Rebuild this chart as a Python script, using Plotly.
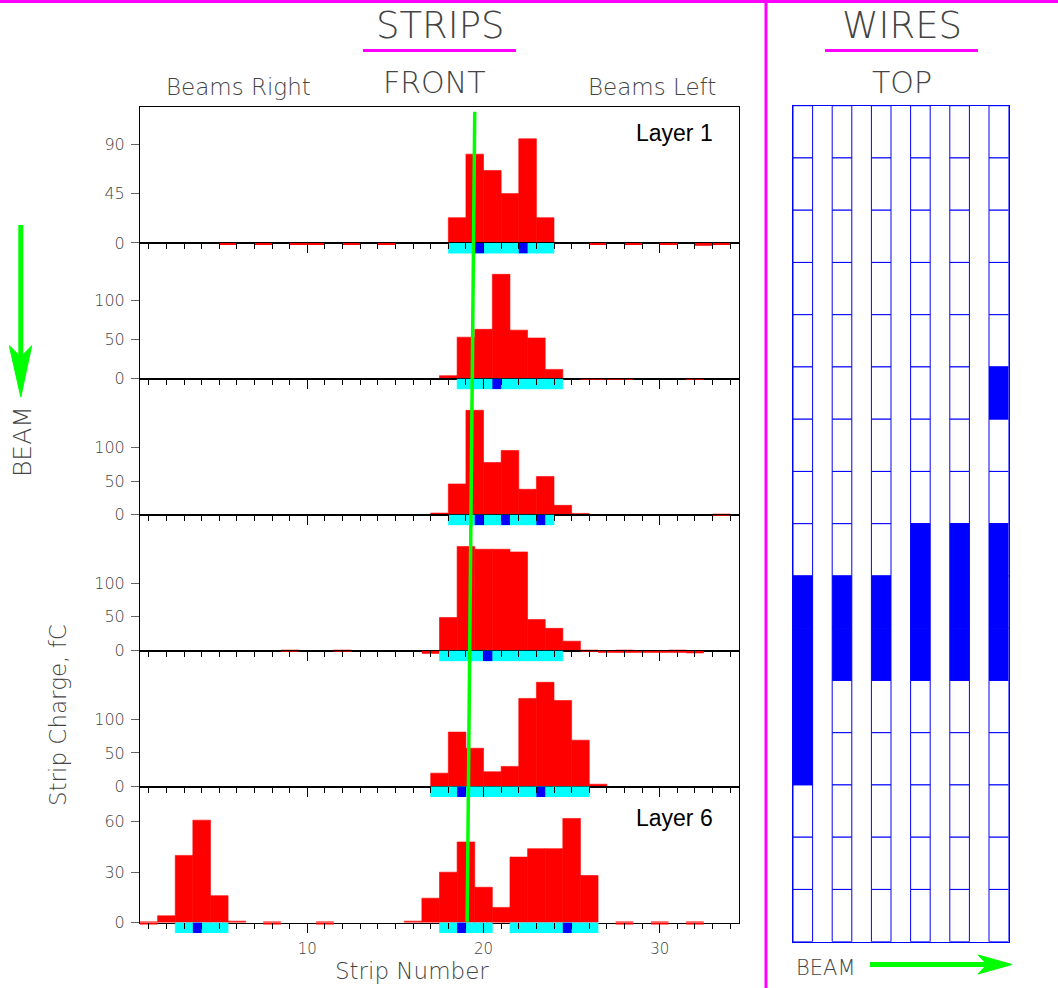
import plotly.graph_objects as go

W, H = 1058, 988

# ---------------- data ----------------
STRIP_NUMBERS = list(range(1, 35))
LAYER_LABELS = ["Layer 1", "", "", "", "", "Layer 6"]

CHARGE_L1 = [0, 0, 0, 0, -1, 0, -1, 0, -1, -1,
             0, -1, 0, -1, 0, 0, 0, 23, 81, 66,
             45, 95, 23, 0, 0, -1, 0, -1, 0, -1,
             0, -2.5, -1.5, 0]
CHARGE_L2 = [0, 0, 0, 0, 0, 0, 0, 0, 0, 0,
             0, 0, 0, 0, 0, 0, 0, 4, 53, 63,
             133, 62, 52, 12, 0, -1, -1, -1, 0, 0,
             0, -1, 0, 0]
CHARGE_L3 = [0, 0, 0, 0, 0, 0, 0, 0, 0, 0,
             0, 0, 0, 0, 0, 0, 2.5, 46, 156, 78,
             96, 38, 57, 14, 2, 0, 0, 0, 0, 0,
             0, 0, -1.5, 0]
CHARGE_L4 = [0, 0, 0, 0, 0, 0, 0, 0, -1, 0,
             0, -1, 0, 0, 0, 0, -4.5, 49, 154, 150,
             150, 146, 46, 33, 14, -1, -3, -2, -3, -3,
             -2, -4, 0, 0]
CHARGE_L5 = [0, 0, 0, 0, 0, 0, 0, 0, 0, 0,
             0, 0, 0, 0, 0, 0, 20, 81, 57, 22,
             30, 131, 155, 128, 69, 3.5, 0, 0, 0, 0,
             0, 0, 0, 0]
CHARGE_L6 = [-1, 4, 40, 61, 16, 0.8, 0, -1, 0, 0,
             -1, 0, 0, 0, 0, 0.8, 14.5, 30, 48, 21,
             9, 39, 44, 44, 62, 28, 0, -1, 0, -1,
             0, -1, 0, 0]
CHARGES = [CHARGE_L1, CHARGE_L2, CHARGE_L3, CHARGE_L4, CHARGE_L5, CHARGE_L6]

# strips above threshold (cyan) and key half-strips (blue): (strip, 0=left half / 1=right half)
HIT_STRIPS = [
    [18, 19, 20, 21, 22, 23],
    [19, 20, 21, 22, 23, 24],
    [18, 19, 20, 21, 22, 23],
    [18, 19, 20, 21, 22, 23, 24],
    [17, 18, 19, 20, 21, 22, 23, 24, 25],
    [3, 4, 5, 18, 19, 20, 22, 23, 24, 25, 26],
]
KEY_HALFSTRIPS = [
    [(19, 1), (22, 0)],
    [(21, 0)],
    [(19, 1), (21, 0), (23, 0)],
    [(20, 1)],
    [(18, 1), (23, 0)],
    [(4, 0), (19, 0), (25, 0)],
]

Y_TICKS = [[0, 45, 90], [0, 50, 100], [0, 50, 100], [0, 50, 100], [0, 50, 100], [0, 30, 60]]
X_TICK_VALUES = [10, 20, 30]
X_TICK_LABELS = ["10", "20", "30"]

TRACK_TOP_STRIP = 19.5
TRACK_BOTTOM_STRIP = 19.07

WIRE_GROUPS = list(range(1, 17))
WIRE_HITS = [
    [10, 11, 12, 13],
    [10, 11],
    [10, 11],
    [9, 10, 11],
    [9, 10, 11],
    [6, 9, 10, 11],
]

# ---------------- layout geometry / styles ----------------
STAGGER = [0.5, 0, 0.5, 0, 0.5, 0]
Y_MAX = [124, 173, 203, 201, 202, 81]
PLOT_L, PLOT_R = 140, 739
PANEL_TOP, PANEL_BOTTOM = 107, 922.5
PH = (PANEL_BOTTOM - PANEL_TOP) / 6
BAND_PX = 10.5
GREY = "#444444"
FONT = "DejaVu Sans"
FW = 200
RED, CYAN, BLUE = "#ff0000", "#00ffff", "#0000ff"


def px(x):
    return x / W


def py(y):
    return 1 - y / H


fig = go.Figure()
layout = dict(
    template="none",
    width=W, height=H, margin=dict(l=0, r=0, t=0, b=0, pad=0, autoexpand=False),
    paper_bgcolor="white", plot_bgcolor="rgba(0,0,0,0)",
    barmode="overlay", showlegend=False,
)

for i in range(6):
    suffix = "" if i == 0 else str(i + 1)
    bsuf = str(i + 8)
    xr, yr = "x" + suffix, "y" + suffix
    xb, yb = "x" + bsuf, "y" + bsuf
    top = PANEL_TOP + i * PH
    bot = top + PH
    last = i == 5
    layout["xaxis" + suffix] = dict(
        domain=[px(PLOT_L), px(PLOT_R)], range=[0.5, 34.5], anchor=yr, automargin=False,
        showline=True, linecolor="black", linewidth=1, mirror=True,
        ticks="", tickvals=X_TICK_VALUES,
        ticktext=X_TICK_LABELS if last else ["", "", ""],
        showticklabels=last,
        tickfont=dict(family=FONT, size=15, color=GREY, weight=FW),
        ticklabelstandoff=12,
        showgrid=False, zeroline=False,
    )
    layout["yaxis" + suffix] = dict(
        domain=[py(bot), py(top)], range=[0, Y_MAX[i]], anchor=xr, automargin=False,
        showline=True, linecolor="black", linewidth=1, mirror=True,
        ticks="outside", tickvals=Y_TICKS[i], ticklen=8, tickcolor="#666666",
        tickfont=dict(family=FONT, size=16, color=GREY, weight=FW),
        ticklabelstandoff=3,
        showgrid=False, zeroline=False,
    )
    band = BAND_PX / PH * Y_MAX[i]
    # band strip below the zero line: holds the negative charges, hit strips and ticks
    layout["xaxis" + bsuf] = dict(
        domain=[px(PLOT_L), px(PLOT_R)], range=[0.5, 34.5], anchor=yb, side="top",
        automargin=False,
        showline=False, ticks="inside", tickvals=X_TICK_VALUES, ticklen=10,
        tickcolor="black", tickwidth=1, showticklabels=False,
        minor=dict(dtick=1, tick0=0, ticks="inside", ticklen=6,
                   tickcolor="black", tickwidth=1, showgrid=False),
        showgrid=False, zeroline=False,
    )
    layout["yaxis" + bsuf] = dict(
        domain=[py(bot + BAND_PX), py(bot)], range=[-band, 0], anchor=xb,
        automargin=False, visible=False, showgrid=False, zeroline=False,
    )
    stag = STAGGER[i]
    xs = [s + stag for s in STRIP_NUMBERS]
    # thin same-colour outline hides anti-aliasing seams between neighbouring positive bars
    seam = [0.6 if v > 0 else 0 for v in CHARGES[i]]
    fig.add_trace(go.Bar(
        x=xs, y=CHARGES[i], width=1,
        marker=dict(color=RED, line=dict(width=seam, color=RED)),
        xaxis=xr, yaxis=yr, hoverinfo="skip"))
    fig.add_trace(go.Bar(
        x=xs, y=CHARGES[i], width=1,
        marker=dict(color=RED, line=dict(width=0)),
        xaxis=xb, yaxis=yb, hoverinfo="skip"))
    fig.add_trace(go.Bar(
        x=[s + stag for s in HIT_STRIPS[i]], y=[-band] * len(HIT_STRIPS[i]),
        base=0, width=1, marker=dict(color=CYAN, line=dict(width=0.6, color=CYAN)),
        xaxis=xb, yaxis=yb, hoverinfo="skip"))
    keys = KEY_HALFSTRIPS[i]
    fig.add_trace(go.Bar(
        x=[s + stag + (0.25 if h else -0.25) for s, h in keys], y=[-band] * len(keys),
        base=0, width=0.5, marker=dict(color=BLUE, line=dict(width=0)),
        xaxis=xb, yaxis=yb, hoverinfo="skip"))

# wires panel
WG_L, WG_R, WG_T, WG_B = 793, 1008.6, 105.7, 941.7
layout["xaxis7"] = dict(domain=[px(WG_L), px(WG_R)], range=[0, 11], anchor="y7", automargin=False,
                        showline=True, linecolor=BLUE, linewidth=1, mirror=True,
                        showticklabels=False, ticks="", showgrid=False, zeroline=False)
layout["yaxis7"] = dict(domain=[py(WG_B), py(WG_T)], range=[16, 0], anchor="x7", automargin=False,
                        showline=True, linecolor=BLUE, linewidth=1, mirror=True,
                        showticklabels=False, ticks="", showgrid=False, zeroline=False)
for c, hits in enumerate(WIRE_HITS):
    fig.add_trace(go.Bar(
        x=[2 * c + 0.5] * len(WIRE_GROUPS), y=[1] * len(WIRE_GROUPS),
        base=[g - 1 for g in WIRE_GROUPS], width=1,
        marker=dict(color=[BLUE if g in hits else "white" for g in WIRE_GROUPS],
                    line=dict(color=BLUE, width=1)),
        xaxis="x7", yaxis="y7", hoverinfo="skip"))

MAG = "#ff00ff"
GREEN = "#00ff00"
shapes = [
    dict(type="line", xref="paper", yref="paper", x0=0, x1=1, y0=py(1.5), y1=py(1.5),
         line=dict(color=MAG, width=3)),
    dict(type="line", xref="paper", yref="paper", x0=px(766), x1=px(766), y0=0, y1=1,
         line=dict(color=MAG, width=3)),
    dict(type="line", xref="paper", yref="paper", x0=px(363), x1=px(516), y0=py(50.5), y1=py(50.5),
         line=dict(color=MAG, width=3)),
    dict(type="line", xref="paper", yref="paper", x0=px(825), x1=px(978), y0=py(50.5), y1=py(50.5),
         line=dict(color=MAG, width=3)),
    dict(type="line", xref="x", yref="paper", x0=TRACK_TOP_STRIP, x1=TRACK_BOTTOM_STRIP,
         y0=py(111.7), y1=py(921.7), line=dict(color=GREEN, width=3.5)),
    # left beam arrow
    dict(type="line", xref="paper", yref="paper", x0=px(20.8), x1=px(20.8), y0=py(225), y1=py(362),
         line=dict(color=GREEN, width=5)),
    dict(type="path", xref="paper", yref="paper",
         path=f"M {px(20.8)} {py(397)} L {px(9.3)} {py(345.7)} L {px(20.8)} {py(357)} L {px(31.7)} {py(345.7)} Z",
         fillcolor=GREEN, line=dict(color=GREEN, width=1)),
    # bottom beam arrow
    dict(type="line", xref="paper", yref="paper", x0=px(870), x1=px(990), y0=py(964.5), y1=py(964.5),
         line=dict(color=GREEN, width=5)),
    dict(type="path", xref="paper", yref="paper",
         path=f"M {px(1012)} {py(964.5)} L {px(978)} {py(955)} L {px(987)} {py(964.5)} L {px(978)} {py(974)} Z",
         fillcolor=GREEN, line=dict(color=GREEN, width=1)),
]
layout["shapes"] = shapes


def txt(x, y, text, size, color=GREY, family=FONT, weight=FW, angle=0):
    return dict(x=px(x), y=py(y), xref="paper", yref="paper", text=text, showarrow=False,
                xanchor="center", yanchor="middle", textangle=angle,
                font=dict(family=family, size=size, color=color, weight=weight))


annotations = [
    txt(440, 25.5, "STRIPS", 37),
    txt(902, 25.5, "WIRES", 37),
    txt(434, 83, "FRONT", 30),
    txt(902, 83, "TOP", 30),
    txt(238, 87, "Beams Right", 23),
    txt(652, 87, "Beams Left", 23),
    txt(674, 133, LAYER_LABELS[0], 23, color="black", family="Liberation Sans", weight=400),
    txt(674, 818, LAYER_LABELS[5], 23, color="black", family="Liberation Sans", weight=400),
    txt(412, 971, "Strip Number", 23),
    txt(58, 715, "Strip Charge, fC", 23, angle=-90),
    txt(22, 442, "BEAM", 25, angle=-90),
    txt(826, 968, "BEAM", 21),
]
layout["annotations"] = annotations

fig.update_layout(**layout)
fig.write_html("out.html", config={"displayModeBar": False},
               post_script="document.body.style.margin='0px';")
